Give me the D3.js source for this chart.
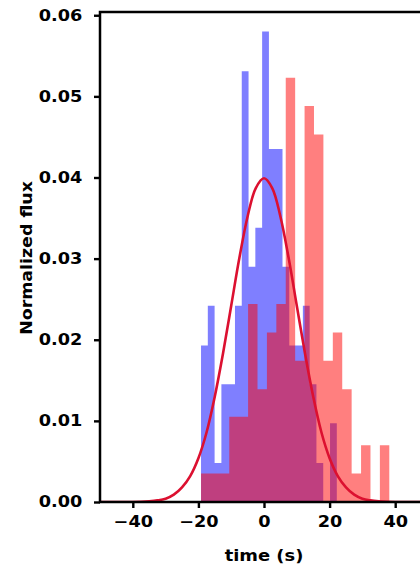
<!DOCTYPE html>
<html>
<head>
<meta charset="utf-8">
<script src="https://d3js.org/d3.v7.min.js"></script>
<style>
  body { margin: 0; background: #fff; }
  svg { display: block; }
  text { font-family: "DejaVu Sans", sans-serif; font-weight: bold; }
</style>
</head>
<body>
<svg class="svg-canvas" width="420" height="567"></svg>
<script>
// blue histogram: 20 bins, density values
var blueStart = -19.2;
var blueWidth = 2.07;
var blueValues = [0.0193, 0.0242, 0.0048, 0.0145, 0.0145, 0.0242, 0.0531, 0.0290, 0.0338, 0.0580,
                  0.0435, 0.0435, 0.0290, 0.0193, 0.0193, 0.0242, 0.0145, 0.0048, 0.0000, 0.0097];

// red histogram: 20 bins, density values
var redStart = -19.2;
var redWidth = 2.87;
var redValues = [0.0035, 0.0035, 0.0035, 0.0105, 0.0105, 0.0244, 0.0139, 0.0209, 0.0244, 0.0523,
                 0.0174, 0.0488, 0.0453, 0.0174, 0.0209, 0.0139, 0.0035, 0.0070, 0.0000, 0.0070];

// curve
var curveX = [-50, -40, -35, -32.5, -30, -27.5, -25, -22.5, -20, -17.5, -15, -12.5, -10, -7.5, -5, -2.5,
              0, 2.5, 5, 7.5, 10, 12.5, 15, 17.5, 20, 22.5, 25, 27.5, 30, 32.5, 35, 40, 50];
var curveY = [0, 0, 0.0001, 0.0002, 0.0004, 0.0009, 0.0018, 0.0032, 0.0054, 0.0086, 0.0130, 0.0183, 0.0242, 0.0301, 0.0352, 0.0387,
              0.0399, 0.0387, 0.0352, 0.0301, 0.0242, 0.0183, 0.0130, 0.0086, 0.0054, 0.0032, 0.0018, 0.0009, 0.0004, 0.0002, 0.0001, 0, 0];

var xTicks = [-40, -20, 0, 20, 40];
var yTicks = [0, 0.01, 0.02, 0.03, 0.04, 0.05, 0.06];

var svg = d3.select(".svg-canvas");
var plotLeft = 100, plotRight = 428, plotTop = 12, plotBottom = 502;
var stretch = 1.18; // the reference lettering is wide

var x = d3.scaleLinear().domain([-50, 50]).range([plotLeft, plotRight]);
var y = d3.scaleLinear().domain([0, 0.0604]).range([plotBottom, plotTop]);

svg.append("clipPath").attr("id", "plot")
  .append("rect")
  .attr("x", plotLeft).attr("y", plotTop)
  .attr("width", plotRight - plotLeft).attr("height", plotBottom - plotTop);

var g = svg.append("g").attr("clip-path", "url(#plot)");

function steps(start, width, values) {
  var pts = values.map(function(v, i) { return [start + i * width, v]; });
  pts.push([start + values.length * width, values[values.length - 1]]);
  return pts;
}

var area = d3.area()
  .curve(d3.curveStepAfter)
  .x(function(d) { return x(d[0]); })
  .y0(y(0))
  .y1(function(d) { return y(d[1]); });

g.append("path")
  .attr("d", area(steps(blueStart, blueWidth, blueValues)))
  .attr("fill", "rgba(0,0,255,0.5)");

g.append("path")
  .attr("d", area(steps(redStart, redWidth, redValues)))
  .attr("fill", "rgba(255,0,0,0.5)");

var line = d3.line()
  .curve(d3.curveCatmullRom)
  .x(function(d, i) { return x(curveX[i]); })
  .y(function(d) { return y(d); });

g.append("path")
  .attr("d", line(curveY))
  .attr("fill", "none")
  .attr("stroke", "#dc1030")
  .attr("stroke-width", 2.6);

// axes
var xAxis = svg.append("g")
  .attr("transform", "translate(0," + plotBottom + ")")
  .call(d3.axisBottom(x).tickValues(xTicks).tickSize(6).tickPadding(8)
    .tickFormat(function(d) { return d < 0 ? "\u2212" + Math.abs(d) : d; }));

var yAxis = svg.append("g")
  .attr("transform", "translate(" + plotLeft + ",0)")
  .call(d3.axisLeft(y).tickValues(yTicks).tickSize(6).tickPadding(9).tickFormat(d3.format(".2f")));

[xAxis, yAxis].forEach(function(a) {
  a.select(".domain").remove();
  a.selectAll(".tick line").attr("stroke", "#000").attr("stroke-width", 2.4);
  a.selectAll(".tick text")
    .attr("fill", "#000")
    .attr("transform", "scale(" + stretch + ",1)")
    .style("font-size", "15px");
});

svg.append("rect")
  .attr("x", plotLeft).attr("y", plotTop)
  .attr("width", plotRight - plotLeft).attr("height", plotBottom - plotTop)
  .attr("fill", "none")
  .attr("stroke", "#000")
  .attr("stroke-width", 2.5);

svg.append("text")
  .attr("transform", "translate(264,561) scale(1.12,1)")
  .attr("text-anchor", "middle")
  .style("font-size", "16px")
  .text("time (s)");

svg.append("text")
  .attr("transform", "translate(32,258) rotate(-90) scale(1.16,1)")
  .attr("text-anchor", "middle")
  .style("font-size", "15px")
  .text("Normalized flux");
</script>
</body>
</html>
